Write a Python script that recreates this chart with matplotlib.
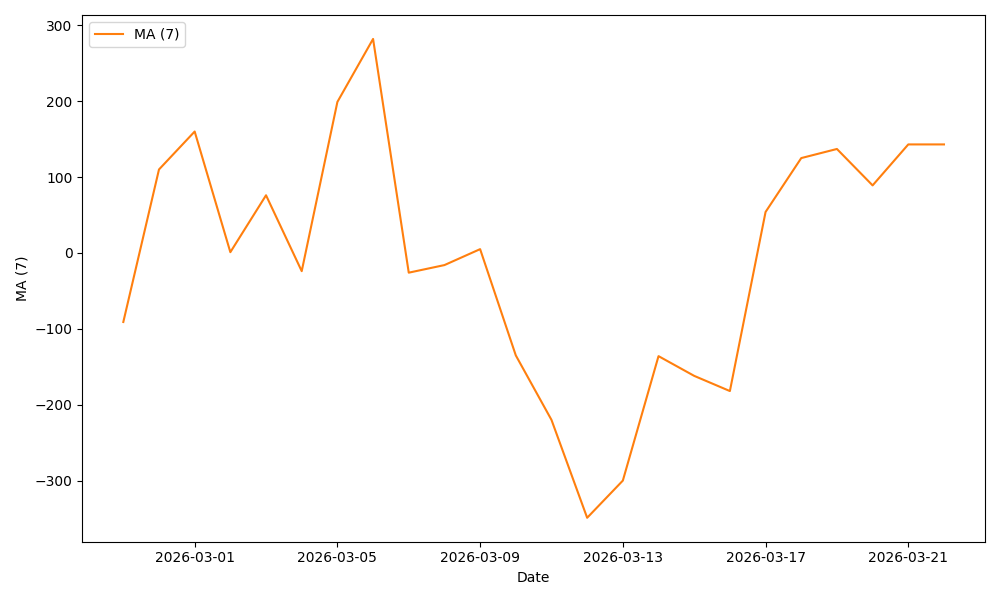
import matplotlib
matplotlib.use("Agg")
import matplotlib.pyplot as plt
import matplotlib.dates as mdates
import pandas as pd

# data
dates = pd.date_range("2026-02-27", "2026-03-22", freq="D")
ma7 = [-91, 110, 160, 1, 76, -24, 199, 282, -26, -16, 5, -135, -220,
       -349, -300, -136, -162, -182, 54, 125, 137, 89, 143, 143]

fig, ax = plt.subplots(figsize=(10, 6), dpi=100)
ax.plot(dates, ma7, color="tab:orange", label="MA (7)")

ax.xaxis.set_major_locator(mdates.DayLocator(bymonthday=[1, 5, 9, 13, 17, 21]))
ax.xaxis.set_major_formatter(mdates.DateFormatter("%Y-%m-%d"))
ax.set_xlabel("Date")
ax.set_ylabel("MA (7)")
ax.legend(loc="upper left")

fig.tight_layout()
fig.savefig("out.png")
